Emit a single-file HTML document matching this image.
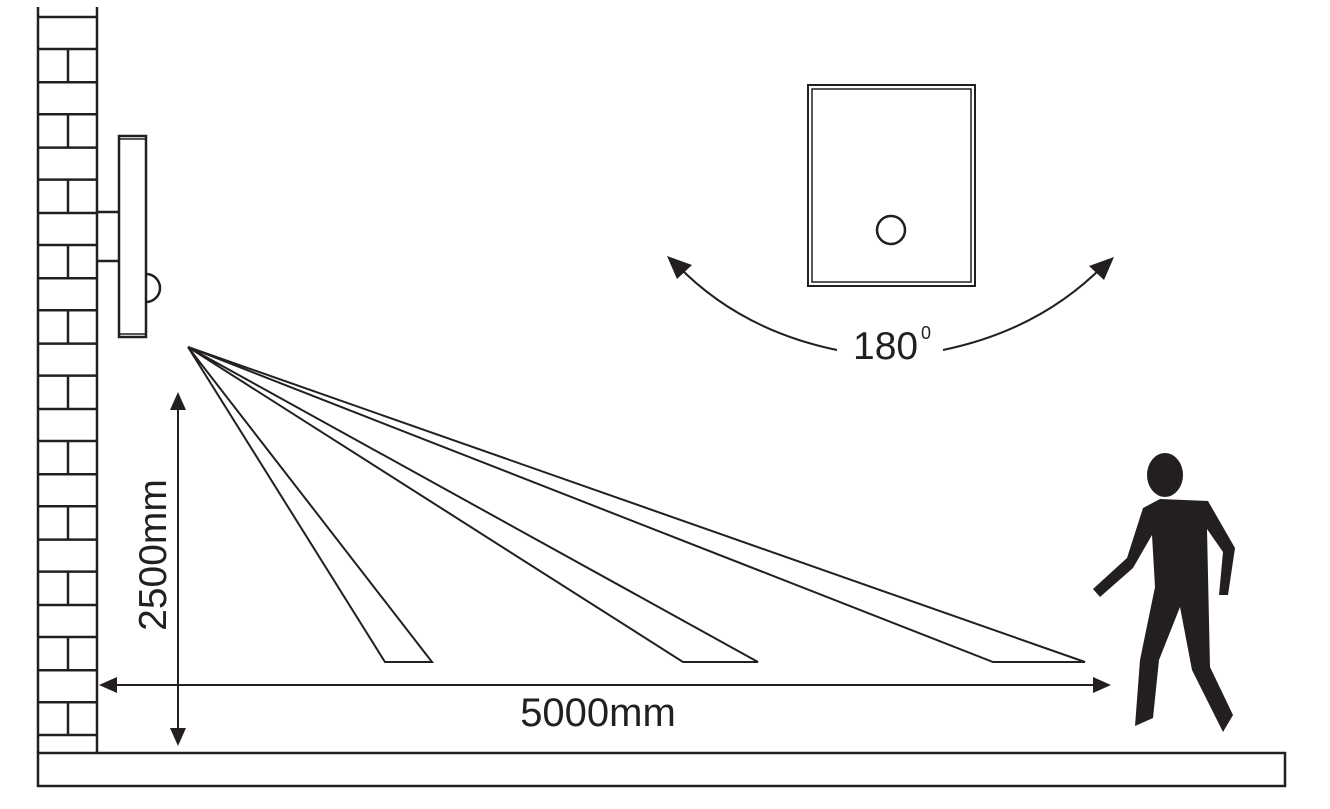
<!DOCTYPE html>
<html><head><style>body{margin:0;background:#fff}svg{display:block}</style></head><body>
<svg width="1330" height="809" viewBox="0 0 1330 809" xmlns="http://www.w3.org/2000/svg">
<g stroke="#231f20" stroke-width="2.5" fill="none">
<line x1="38" y1="7" x2="38" y2="753"/><line x1="97" y1="7" x2="97" y2="753"/>
<g id="b">
<line x1="38" y1="17" x2="97" y2="17"/><line x1="38" y1="49" x2="97" y2="49"/><line x1="68" y1="49" x2="68" y2="82"/>
</g>
<use href="#b" y="65.3"/><use href="#b" y="130.6"/><use href="#b" y="196"/><use href="#b" y="261.3"/><use href="#b" y="326.6"/><use href="#b" y="392"/><use href="#b" y="457.3"/><use href="#b" y="522.6"/><use href="#b" y="588"/><use href="#b" y="653.3"/>
<line x1="38" y1="735" x2="97" y2="735"/>
<rect x="38" y="753" width="1247" height="33"/>
<rect x="119" y="136" width="27" height="201"/>
<line x1="119" y1="139" x2="146" y2="139" stroke-width="1.5"/><line x1="119" y1="334" x2="146" y2="334" stroke-width="1.5"/>
<line x1="97" y1="212" x2="119" y2="212"/><line x1="97" y1="261" x2="119" y2="261"/>
<path d="M146 274 A14 14 0 0 1 146 302"/>
<g stroke-width="2" stroke-linejoin="miter">
<polygon points="188,347 385,662 432,662"/>
<polygon points="188,347 683,662 758,662"/>
<polygon points="188,347 993,662 1085,662"/>
</g>
<line x1="178" y1="405" x2="178" y2="732" stroke-width="2"/>
<line x1="113" y1="685" x2="1097" y2="685" stroke-width="2"/>
<rect x="808" y="85" width="167" height="201" stroke-width="2"/>
<rect x="812" y="89" width="159" height="193" stroke-width="1.5"/>
<circle cx="891" cy="230" r="14" stroke-width="2.5"/>
<path d="M837 350 Q740 330 677 265" stroke-width="2"/>
<path d="M943 350 Q1040 330 1104 265" stroke-width="2"/>
</g>
<g fill="#231f20">
<polygon points="178,392 170,410 186,410"/>
<polygon points="178,746 170,728 186,728"/>
<polygon points="99,685 117,677 117,693"/>
<polygon points="1111,685 1093,677 1093,693"/>
<polygon points="667,256 692,265 677,279"/>
<polygon points="1114,257 1089,266 1104,280"/>
<ellipse cx="1165" cy="475" rx="18" ry="22"/>
<polygon points="1143,508 1160,499 1208,501 1235,548 1228,595 1219,595 1223,552 1207,529 1210,667 1233,715 1223,732 1192,670 1180,607 1159,660 1153,718 1135,726 1140,660 1155,587 1152,535 1133,568 1100,597 1093,589 1127,558"/>
</g>
<g font-family="Liberation Sans, sans-serif" fill="#231f20">
<text x="598" y="726" font-size="40" text-anchor="middle">5000mm</text>
<text transform="translate(166,555) rotate(-90)" font-size="39" text-anchor="middle">2500mm</text>
<text x="853" y="359" font-size="39">180</text>
<text x="921" y="339" font-size="18">0</text>
</g>
</svg>
</body></html>
